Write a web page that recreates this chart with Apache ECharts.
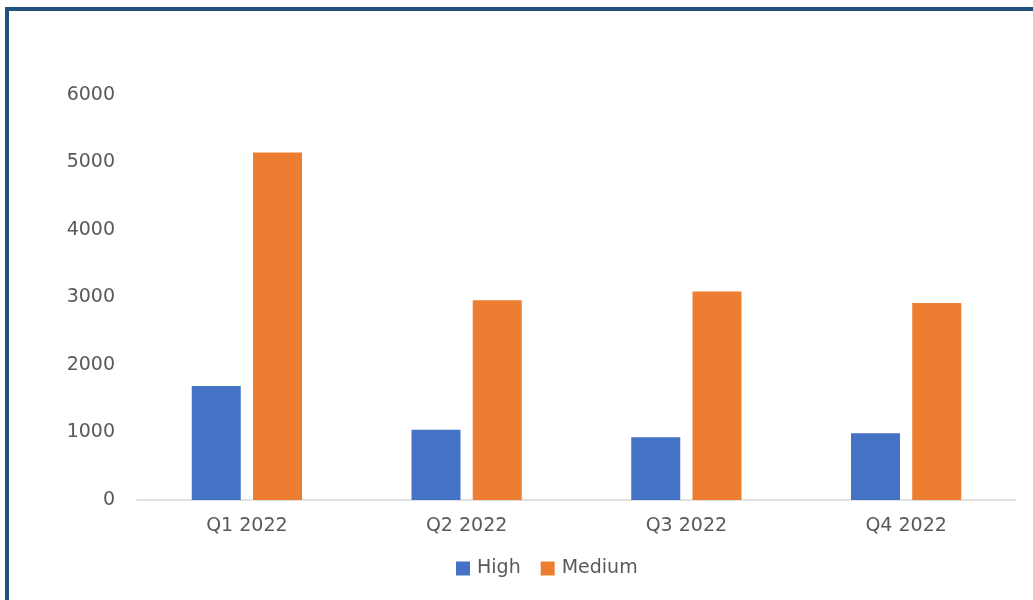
<!DOCTYPE html>
<html>
<head>
<meta charset="utf-8">
<script src="https://cdn.jsdelivr.net/npm/echarts@6/dist/echarts.min.js"></script>
<style>
  html, body { margin: 0; padding: 0; background: #fff; }
  #frame { position: absolute; left: 5px; top: 7px; width: 1100px; height: 700px; border-left: 4px solid #24507F; border-top: 4px solid #24507F; box-sizing: border-box; }
  #chart { position: absolute; left: 0; top: 0; width: 1033px; height: 600px; }
</style>
</head>
<body>
<div id="frame"></div>
<div id="chart"></div>
<script>
const categories = ['Q1 2022', 'Q2 2022', 'Q3 2022', 'Q4 2022'];
const highValues = [1690, 1040, 930, 990];
const mediumValues = [5150, 2960, 3090, 2920];
const seriesNames = ['High', 'Medium'];

const chart = echarts.init(document.getElementById('chart'));
const font = 'DejaVu Sans';
chart.setOption({
  animation: false,
  backgroundColor: 'transparent',
  color: ['#4472C4', '#ED7D31'],
  grid: { left: 137, right: 17, top: 95, bottom: 100, containLabel: false },
  legend: {
    left: 451, top: 554,
    itemWidth: 14, itemHeight: 14, itemGap: 20,
    icon: 'rect',
    textStyle: { fontFamily: font, fontSize: 19, color: '#595959', padding: [0, 0, 0, 2] },
    data: seriesNames
  },
  xAxis: {
    type: 'category',
    data: categories,
    axisLine: { lineStyle: { color: '#D9D9D9', width: 1.5 } },
    axisTick: { show: false },
    axisLabel: { fontFamily: font, fontSize: 19, color: '#595959', margin: 17 }
  },
  yAxis: {
    type: 'value',
    min: 0, max: 6000, interval: 1000,
    splitLine: { show: false },
    axisLine: { show: false },
    axisTick: { show: false },
    axisLabel: { fontFamily: font, fontSize: 19, color: '#595959', margin: 22, padding: [4, 0, 0, 0], formatter: v => String(v) }
  },
  series: [
    { name: seriesNames[0], type: 'bar', data: highValues, barWidth: 49, barGap: '25%' },
    { name: seriesNames[1], type: 'bar', data: mediumValues, barWidth: 49, barGap: '25%' }
  ]
});
</script>
</body>
</html>
